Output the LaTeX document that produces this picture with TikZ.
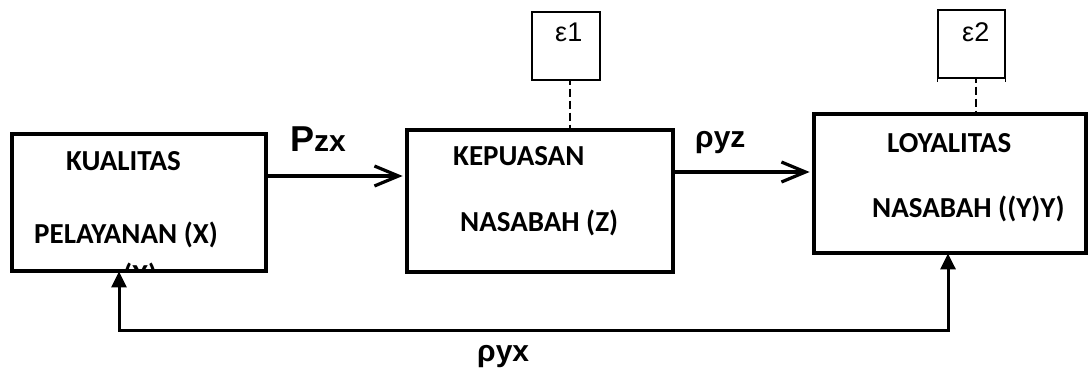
\documentclass[tikz,border=0pt]{standalone}
\usepackage{fontspec}
\setmainfont{Carlito}
\newfontfamily\symfont{Liberation Sans}
\usetikzlibrary{arrows.meta}

\begin{document}
\begin{tikzpicture}[x=1pt,y=-1pt,
  varbox/.style={draw, line width=4.8pt, inner sep=0pt},
  errbox/.style={draw, line width=1.2pt, inner sep=0pt, minimum width=68pt, minimum height=68pt},
  boxtext/.style={anchor=base west, inner sep=0pt, font=\fontsize{29}{31}\selectfont\bfseries},
  coef/.style={anchor=base west, inner sep=0pt, font=\fontsize{30}{32}\selectfont\symfont\bfseries},
  errtext/.style={anchor=base west, inner sep=0pt, font=\fontsize{27}{29}\selectfont\symfont},
  path link/.style={line width=3.2pt, -{Straight Barb[length=24pt, width=20pt, line width=3.2pt]}, shorten >=2pt},
  feedback/.style={line width=3pt, {Triangle[length=16pt, width=15pt]}-{Triangle[length=16pt, width=15pt]}, shorten <=-2pt, shorten >=-2pt},
  errlink/.style={line width=1.6pt, dash pattern=on 8pt off 4pt, dash phase=-8pt}]

\useasboundingbox (0,0) rectangle (1091,374);

% variable boxes
\node[varbox, minimum width=254pt, minimum height=137pt] (kx) at (139,202.5) {};
\node[varbox, minimum width=266pt, minimum height=142pt] (kz) at (540,201) {};
\node[varbox, minimum width=272pt, minimum height=139pt] (ky) at (950,183.5) {};

% box captions
\node[boxtext] (kx1) at (66,171) {KUALITAS};
\node[boxtext] (kx2) at (34,243) {PELAYANAN (X)};
\begin{scope}
  \clip (14,136) rectangle (264,269);
  \node[boxtext] (kx3) at (123,284) {(X)};
\end{scope}
\node[boxtext] (kz1) at (453,166) {KEPUASAN};
\node[boxtext] (kz2) at (460,231) {NASABAH (Z)};
\node[boxtext] (ky1) at (887,153) {LOYALITAS};
\node[boxtext] (ky2) at (872,217) {NASABAH ((Y)Y)};

% error terms
\node[errbox] (e1) at (566,46) {};
\node[errtext] (e1t) at (555,42) {ε1};
\node[errbox, minimum width=67pt] (e2) at (971.5,44) {};
\node[errtext] (e2t) at (962,42) {ε2};
\draw[line width=1.2pt] (e2.south west) -- ++(0,3) (e2.south east) -- ++(0,3);
\draw[errlink] ([xshift=4pt]e1.south) -- ([xshift=4pt]e1.south |- kz.north);
\draw[errlink] ([xshift=4.5pt]e2.south) -- ([xshift=4.5pt]e2.south |- ky.north);

% direct paths
\draw[path link] (kx.east |- {(0,176)}) -- (kz.west |- {(0,176)});
\draw[path link] (kz.east |- {(0,172)}) -- (ky.west |- {(0,172)});
\node[coef] (pzx) at (290,152) {\fontsize{36}{38}\selectfont P\fontsize{30}{32}\selectfont zx};
\node[coef] (pyz) at (695,148) {ρyz};

% correlation path below
\coordinate (c1) at (119,330);
\coordinate (c2) at (948,330);
\draw[feedback] (kx.south -| c1) -- (c1) -- (c2) -- (ky.south -| c2);
\node[coef] (pyx) at (477,361) {ρyx};
\end{tikzpicture}
\end{document}
